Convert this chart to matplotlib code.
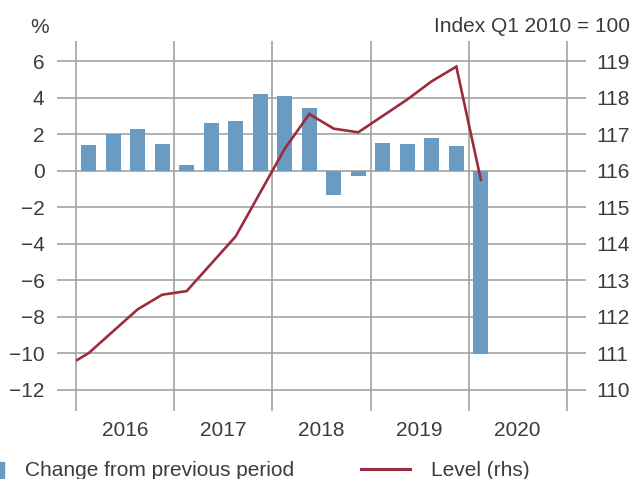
import matplotlib
matplotlib.use('Agg')
import matplotlib.pyplot as plt
from matplotlib.patches import Rectangle
from matplotlib.lines import Line2D
import numpy as np

# ---- data ----
quarters = ['2016Q1', '2016Q2', '2016Q3', '2016Q4',
            '2017Q1', '2017Q2', '2017Q3', '2017Q4',
            '2018Q1', '2018Q2', '2018Q3', '2018Q4',
            '2019Q1', '2019Q2', '2019Q3', '2019Q4',
            '2020Q1']
change = [1.4, 2.0, 2.3, 1.45,
          0.3, 2.6, 2.7, 4.2,
          4.1, 3.45, -1.35, -0.3,
          1.5, 1.45, 1.8, 1.35,
          -10.05]
level_quarters = ['2015Q4'] + quarters
level = [110.6,
         111.0, 111.6, 112.2, 112.6,
         112.7, 113.45, 114.2, 115.4,
         116.6, 117.55, 117.15, 117.05,
         117.5, 117.95, 118.45, 118.85,
         115.75]
years = ['2016', '2017', '2018', '2019', '2020']
left_ticks = [-12, -10, -8, -6, -4, -2, 0, 2, 4, 6]
right_ticks = [110, 111, 112, 113, 114, 115, 116, 117, 118, 119]

BAR = '#6a9bc3'
LINE = '#9b2c3d'
GRID = '#a3a3a3'
TXT = '#3c3c3c'

plt.rcParams['font.family'] = ['Liberation Sans', 'DejaVu Sans']
FS = 15

W, H = 633, 479
fig = plt.figure(figsize=(W / 100, H / 100), dpi=100)
ax = fig.add_axes([57 / W, (H - 411) / H, (586 - 57) / W, (411 - 40.7) / H])

x = np.arange(len(quarters))
ax.bar(x, change, width=0.61, color=BAR, zorder=2)

ax.set_xlim(-1.29, 20.29)
ax.set_ylim(-13.17, 7.12)
ax.set_yticks(left_ticks)
ax.set_yticklabels([f'{t}'.replace('-', '\u2212') for t in left_ticks])

ny = len(years)
ax.set_xticks([1.5 + 4 * i for i in range(ny)])
ax.set_xticklabels(years)
ax.set_xticks([-0.5 + 4 * i for i in range(ny + 1)], minor=True)
ax.tick_params(axis='both', which='both', length=0, labelsize=FS, colors=TXT)
ax.tick_params(axis='y', pad=9)
ax.tick_params(axis='x', pad=7)
ax.grid(False)
ax.yaxis.grid(True, color=GRID, lw=1.2)
ax.xaxis.grid(True, which='minor', color=GRID, lw=1.2)
ax.set_axisbelow(True)
for s in ax.spines.values():
    s.set_visible(False)

ax2 = ax.twinx()
ax2.set_ylim(116 + (-13.17) / 2, 116 + 7.12 / 2)
ax2.set_yticks(right_ticks)
ax2.tick_params(axis='y', length=0, labelsize=FS, colors=TXT, pad=7.5)
for s in ax2.spines.values():
    s.set_visible(False)
xl = np.arange(len(level_quarters)) - 1
ln, = ax2.plot(xl, level, color=LINE, lw=1.9, zorder=3, solid_joinstyle='miter')
clip = Rectangle((-0.5, 100), 30, 40, transform=ax2.transData)
ln.set_clip_path(clip)

def fx(px):
    return px / W

def fy(py):
    return (H - py) / H

fig.text(fx(30), fy(33), '%', ha='left', va='baseline', fontsize=FS, color=TXT)
fig.text(fx(630), fy(32.5), 'Index Q1 2010 = 100', ha='right', va='baseline', fontsize=FS, color=TXT)

# legend
fig.add_artist(Rectangle((fx(-6), fy(477.7)), (10.3) / W, 16 / H, transform=fig.transFigure,
                         color=BAR, clip_on=False))
fig.text(fx(25), fy(476), 'Change from previous period', ha='left', va='baseline',
         fontsize=FS, color=TXT)
fig.add_artist(Line2D([fx(360.7), fx(410)], [fy(469.3), fy(469.3)], transform=fig.transFigure,
                      color=LINE, lw=2.2))
fig.text(fx(430.7), fy(476), 'Level (rhs)', ha='left', va='baseline', fontsize=FS, color=TXT)

fig.savefig('out.png', dpi=100)
